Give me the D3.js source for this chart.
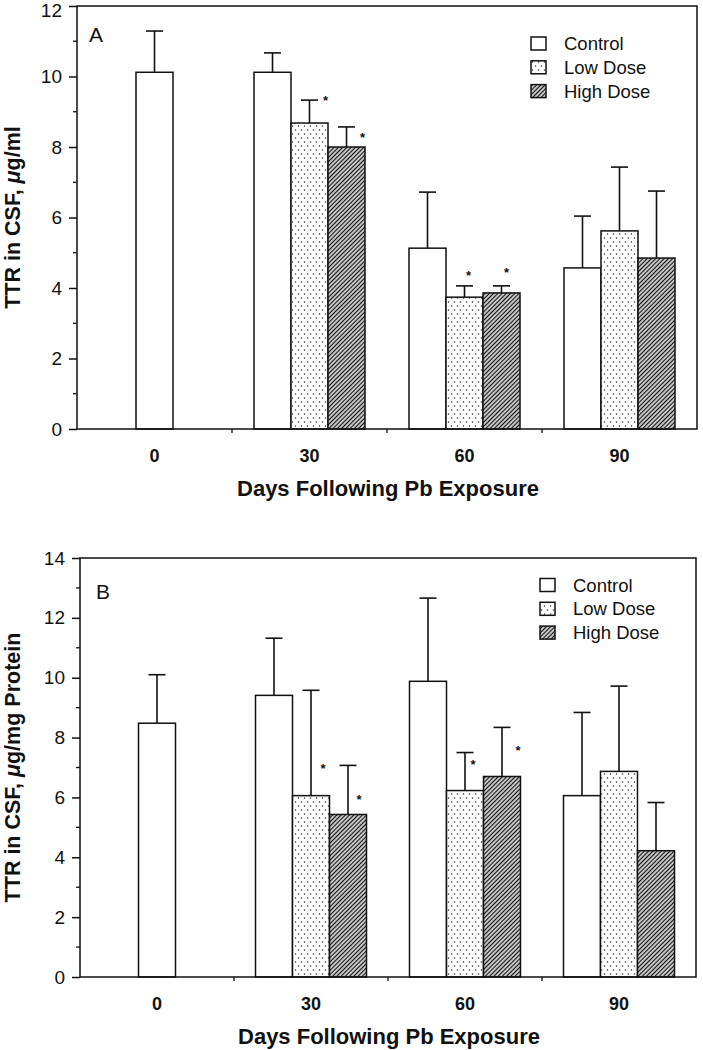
<!DOCTYPE html>
<html>
<head>
<meta charset="utf-8">
<script src="https://cdn.jsdelivr.net/npm/d3@7"></script>
<style>
  html, body { margin: 0; padding: 0; background: #fff; }
  svg { display: block; }
  text { font-family: "Liberation Sans", Arial, Helvetica, sans-serif; fill: #111; }
</style>
</head>
<body>
<script>
// ---------- data ----------
const days = ["0", "30", "60", "90"];
const series = ["Control", "Low Dose", "High Dose"];

// Panel A: TTR in CSF, µg/ml  (mean, SD)
const aControl = [10.12, 10.12, 5.13, 4.57];
const aControlSD = [1.17, 0.55, 1.59, 1.47];
const aLow = [null, 8.68, 3.74, 5.62];
const aLowSD = [null, 0.65, 0.32, 1.81];
const aHigh = [null, 8.00, 3.86, 4.85];
const aHighSD = [null, 0.57, 0.20, 1.90];
const aTicks = [0, 2, 4, 6, 8, 10, 12];
// significance stars: [day, series, value level, x offset]
const aStars = [["30", "Low Dose", 9.39, 16], ["30", "High Dose", 8.34, 16], ["60", "Low Dose", 4.43, 4], ["60", "High Dose", 4.51, 5]];

// Panel B: TTR in CSF, µg/mg Protein
const bControl = [8.48, 9.41, 9.88, 6.06];
const bControlSD = [1.62, 1.91, 2.78, 2.78];
const bLow = [null, 6.06, 6.23, 6.87];
const bLowSD = [null, 3.52, 1.27, 2.85];
const bHigh = [null, 5.43, 6.70, 4.22];
const bHighSD = [null, 1.64, 1.64, 1.61];
const bTicks = [0, 2, 4, 6, 8, 10, 12, 14];
const bStars = [["30", "Low Dose", 7.04, 12], ["30", "High Dose", 6.03, 11], ["60", "Low Dose", 7.17, 8], ["60", "High Dose", 7.64, 16]];

const xTitle = "Days Following Pb Exposure";

// ---------- drawing ----------
const W = 703, H = 1050;
const svg = d3.select("body").append("svg").attr("width", W).attr("height", H);
const defs = svg.append("defs");

const dots = defs.append("pattern").attr("id", "dots").attr("patternUnits", "userSpaceOnUse")
  .attr("width", 6).attr("height", 8);
dots.append("rect").attr("width", 6).attr("height", 8).attr("fill", "#fff");
dots.append("circle").attr("cx", 1.5).attr("cy", 2).attr("r", 0.8).attr("fill", "#333");
dots.append("circle").attr("cx", 4.5).attr("cy", 6).attr("r", 0.8).attr("fill", "#333");

const hatch = defs.append("pattern").attr("id", "hatch").attr("patternUnits", "userSpaceOnUse")
  .attr("width", 3).attr("height", 10).attr("patternTransform", "rotate(45)");
hatch.append("rect").attr("width", 3).attr("height", 10).attr("fill", "#fff");
hatch.append("line").attr("x1", 1.5).attr("x2", 1.5).attr("y1", 0).attr("y2", 10)
  .attr("stroke", "#111").attr("stroke-width", 1.5);

const fills = { "Control": "#fff", "Low Dose": "url(#dots)", "High Dose": "url(#hatch)" };

function panel(cfg) {
  const { left, right, top, bottom, ymax, ticks, label, yTitle, yTitleUnit, means, sds, stars, legendX, legendY } = cfg;
  const g = svg.append("g");
  const x = d3.scaleBand().domain(days).range([left, right]).padding(0);
  const y = d3.scaleLinear().domain([0, ymax]).range([bottom, top]);
  const bw = 37;
  const inner = d3.scaleBand().domain(series).range([-bw * 1.5, bw * 1.5]).padding(0);

  const rows = [];
  days.forEach((d, i) => {
    series.forEach((s, j) => {
      const v = means[j][i];
      if (v == null) return;
      const only = series.filter((ss, jj) => means[jj][i] != null).length === 1;
      const cx = x(d) + x.bandwidth() / 2;
      const x0 = only ? cx - bw / 2 : cx + inner(s);
      rows.push({ d, s, v, sd: sds[j][i], x0, cx: x0 + bw / 2 });
    });
  });

  // error bars (upper only, from bar top)
  const eb = g.append("g").attr("stroke", "#111").attr("stroke-width", 1.6).attr("fill", "none");
  rows.forEach(r => {
    eb.append("line").attr("x1", r.cx).attr("x2", r.cx).attr("y1", y(r.v)).attr("y2", y(r.v + r.sd));
    eb.append("line").attr("x1", r.cx - 8.5).attr("x2", r.cx + 8.5).attr("y1", y(r.v + r.sd)).attr("y2", y(r.v + r.sd));
  });

  // bars
  g.append("g").selectAll("rect").data(rows).join("rect")
    .attr("x", r => r.x0).attr("width", bw)
    .attr("y", r => y(r.v)).attr("height", r => y(0) - y(r.v))
    .attr("fill", r => fills[r.s]).attr("stroke", "#111").attr("stroke-width", 1.5);

  // stars
  stars.forEach(([d, s, lvl, dx]) => {
    const r = rows.find(rr => rr.d === d && rr.s === s);
    g.append("text").attr("x", r.cx + dx).attr("y", y(lvl) + 7)
      .attr("text-anchor", "middle").attr("font-size", 13).attr("font-weight", "bold").text("*");
  });

  // frame
  g.append("rect").attr("x", left).attr("y", top).attr("width", right - left).attr("height", bottom - top)
    .attr("fill", "none").attr("stroke", "#111").attr("stroke-width", 1.5);

  // y axis
  const yAxis = d3.axisLeft(y).tickValues(ticks).tickSize(8).tickPadding(7).tickFormat(d3.format("d"));
  const ya = g.append("g").attr("transform", `translate(${left},0)`).call(yAxis);
  ya.select(".domain").remove();
  ya.selectAll("line").attr("stroke", "#111").attr("stroke-width", 1.5);
  ya.selectAll("text").attr("font-size", 19).attr("font-family", "Liberation Sans, Arial, sans-serif").attr("fill", "#111")
    .attr("dy", d => (y(d) < 12 ? "0.55em" : "0.32em"));
  const minor = d3.range(1, ymax, 2);
  g.append("g").selectAll("line").data(minor).join("line")
    .attr("x1", left - 4).attr("x2", left).attr("y1", d => y(d)).attr("y2", d => y(d))
    .attr("stroke", "#111").attr("stroke-width", 1.3);

  // x axis
  const xAxis = d3.axisBottom(x).tickSize(0).tickPadding(20);
  const xa = g.append("g").attr("transform", `translate(0,${bottom})`).call(xAxis);
  xa.select(".domain").remove();
  xa.selectAll("text").attr("font-size", 18).attr("font-weight", "bold")
    .attr("font-family", "Liberation Sans, Arial, sans-serif").attr("fill", "#111");
  g.append("g").selectAll("line").data(days.slice(1)).join("line")
    .attr("x1", d => x(d)).attr("x2", d => x(d)).attr("y1", bottom).attr("y2", bottom + 4)
    .attr("stroke", "#111").attr("stroke-width", 1.3);

  g.append("text").attr("x", (left + right) / 2 + 1).attr("y", bottom + 67).attr("text-anchor", "middle")
    .attr("font-size", 22).attr("font-weight", "bold").text(xTitle);

  const yt = g.append("text").attr("transform", `translate(20,${(top + bottom) / 2}) rotate(-90)`)
    .attr("text-anchor", "middle").attr("font-size", 21.5).attr("font-weight", "bold");
  yt.append("tspan").text(yTitle);
  yt.append("tspan").attr("font-style", "italic").text("\u03bc");
  yt.append("tspan").text(yTitleUnit);

  g.append("text").attr("x", cfg.labelX).attr("y", cfg.labelY).attr("font-size", 21).text(label);

  // legend
  const lg = g.append("g");
  series.forEach((s, i) => {
    const cy = legendY + i * 23.8;
    lg.append("rect").attr("x", legendX).attr("y", cy - 6.5).attr("width", 15).attr("height", 13)
      .attr("fill", fills[s]).attr("stroke", "#111").attr("stroke-width", 1.5);
    lg.append("text").attr("x", legendX + 33).attr("y", cy + 6.5).attr("font-size", 18.5).text(s);
  });
}

panel({
  left: 77, right: 697, top: 6, bottom: 429, ymax: 12, ticks: aTicks,
  label: "A", labelX: 89, labelY: 42,
  yTitle: "TTR in CSF, ", yTitleUnit: "g/ml",
  means: [aControl, aLow, aHigh], sds: [aControlSD, aLowSD, aHighSD], stars: aStars,
  legendX: 531, legendY: 43.5
});

panel({
  left: 80, right: 696, top: 558, bottom: 977, ymax: 14, ticks: bTicks,
  label: "B", labelX: 96, labelY: 599,
  yTitle: "TTR in CSF, ", yTitleUnit: "g/mg Protein",
  means: [bControl, bLow, bHigh], sds: [bControlSD, bLowSD, bHighSD], stars: bStars,
  legendX: 540, legendY: 585
});
</script>
</body>
</html>
